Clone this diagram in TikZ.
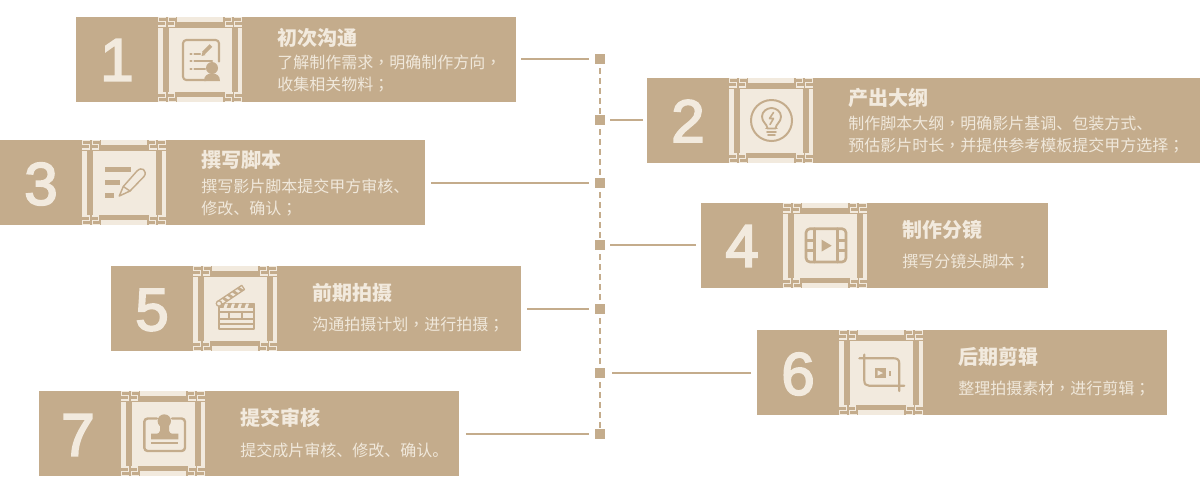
\documentclass[tikz,border=0pt]{standalone}
\usepackage{fontspec}
\setmainfont{Noto Sans CJK SC}
\newfontfamily\numfont[FakeBold=3]{Liberation Sans}
\newfontfamily\tcfont{Noto Sans CJK TC}
\newcommand{\cm}{{\tcfont ，}}
\newcommand{\sm}{{\tcfont ；}}
\definecolor{tan}{HTML}{C4AC8C}
\definecolor{lite}{HTML}{F2EADE}
\definecolor{bodyc}{HTML}{F0E8DB}
\tikzset{
  boxn/.style={fill=tan,inner sep=0pt,outer sep=0pt,minimum height=63.75pt},
  sq/.style={fill=tan,inner sep=0pt,outer sep=0pt,minimum size=7.5pt},
  conn/.style={draw=tan,line width=1.5pt,shorten <=3.75pt,shorten >=4.5pt},
  vdash/.style={draw=tan,line width=1.2pt,dash pattern=on 4.5pt off 3pt,shorten <=3.2pt,shorten >=1pt},
  numn/.style={text=lite,inner sep=0pt,font=\numfont\fontsize{45pt}{45pt}\selectfont},
  titlen/.style={text=lite,anchor=west,inner sep=0pt,font=\bfseries\fontsize{15pt}{15pt}\selectfont},
  bodyn/.style={text=bodyc,anchor=west,inner sep=0pt,font=\fontsize{12pt}{12pt}\selectfont},
  ic/.style={draw=tan,line width=1.6pt,line cap=round,line join=round},
  icthin/.style={draw=tan,line width=.95pt,line cap=round,line join=round},
  key/.style={draw=lite,line width=.8pt},
}
\newcommand{\keycorner}{%
  \foreach \o in {0,9.5}{
    \draw[key,shift={(\o,0)}] (8,0.6) -- (0.6,0.6) -- (0.6,4.8) -- (7.4,4.8) -- (7.4,9) -- (0,9);
  }
}
% panel: center x, center y, icon body
\newcommand{\iconpanel}[3]{%
  \begin{scope}[shift={(#1,#2)}]
    \fill[lite] (-23,-42.5) rectangle (23,-37.5);
    \fill[lite] (-23,37.5) rectangle (23,42.5);
    \fill[lite] (-42,-32) rectangle (-37,32);
    \fill[lite] (37.5,-32) rectangle (42,32);
    \fill[lite] (-31,-31.5) rectangle (32,32.5);
    \begin{scope}[shift={(-42,-42.5)}]\keycorner\end{scope}
    \begin{scope}[shift={(42,-42.5)},xscale=-1]\keycorner\end{scope}
    \begin{scope}[shift={(-42,42.5)},yscale=-1]\keycorner\end{scope}
    \begin{scope}[shift={(42,42.5)},xscale=-1,yscale=-1]\keycorner\end{scope}
    #3
  \end{scope}
}
\begin{document}
\begin{tikzpicture}[x=0.75pt,y=-0.75pt]
\useasboundingbox (0,0) rectangle (1200,494);

% boxes
\node[boxn,minimum width=330pt]    (b1) at (296,59.5) {};
\node[boxn,minimum width=414.75pt] (b2) at (923.5,120.5) {};
\node[boxn,minimum width=318.75pt] (b3) at (212.5,182.5) {};
\node[boxn,minimum width=260.25pt] (b4) at (874.5,245.5) {};
\node[boxn,minimum width=307.5pt]  (b5) at (316,308.5) {};
\node[boxn,minimum width=307.5pt]  (b6) at (962,372.5) {};
\node[boxn,minimum width=315pt]    (b7) at (249,433.5) {};

% junction squares
\node[sq] (s1) at (600,59) {};
\node[sq] (s2) at (600,120) {};
\node[sq] (s3) at (600,183) {};
\node[sq] (s4) at (600,245) {};
\node[sq] (s5) at (600,309) {};
\node[sq] (s6) at (600,373) {};
\node[sq] (s7) at (600,434) {};

% spine
\draw[vdash] (s1.south) -- (s2.north);
\draw[vdash] (s2.south) -- (s3.north);
\draw[vdash] (s3.south) -- (s4.north);
\draw[vdash] (s4.south) -- (s5.north);
\draw[vdash] (s5.south) -- (s6.north);
\draw[vdash] (s6.south) -- (s7.north);

% connectors
\draw[conn,shorten >=4.5pt] (b1.east |- s1) -- (s1.west);
\draw[conn,shorten <=3pt,shorten >=3.75pt] (b2.west |- s2) -- (s2.east);
\draw[conn,shorten <=4.5pt,shorten >=4.5pt] (b3.east |- s3) -- (s3.west);
\draw[conn,shorten >=3.75pt] (b4.west |- s4) -- (s4.east);
\draw[conn,shorten <=4.5pt,shorten >=4.5pt] (b5.east |- s5) -- (s5.west);
\draw[conn,shorten <=4.5pt,shorten >=5.2pt] (b6.west |- s6) -- (s6.east);
\draw[conn,shorten <=5.2pt,shorten >=4.5pt] (b7.east |- s7) -- (s7.west);

% numbers
\node[numn] (n1) at (117,60) {1};
\node[numn] (n2) at (688,121) {2};
\node[numn] (n3) at (41,184) {3};
\node[numn] (n4) at (742,246) {4};
\node[numn] (n5) at (152,310) {5};
\node[numn] (n6) at (798,374) {6};
\node[numn] (n7) at (78,435) {7};

% texts
\node[titlen] (t1) at (277,38) {初次沟通};
\node[bodyn] (d1a) at (277,62) {了解制作需求\cm 明确制作方向\cm};
\node[bodyn] (d1b) at (277,85) {收集相关物料\sm};
\node[titlen] (t2) at (848,98) {产出大纲};
\node[bodyn] (d2a) at (848,123) {制作脚本大纲\cm 明确影片基调、包装方式、};
\node[bodyn] (d2b) at (848,146) {预估影片时长\cm 并提供参考模板提交甲方选择\sm};
\node[titlen] (t3) at (201,160) {撰写脚本};
\node[bodyn] (d3a) at (201,186) {撰写影片脚本提交甲方审核、};
\node[bodyn] (d3b) at (201,209) {修改、确认\sm};
\node[titlen] (t4) at (902,230) {制作分镜};
\node[bodyn] (d4) at (902,262) {撰写分镜头脚本\sm};
\node[titlen] (t5) at (312,293) {前期拍摄};
\node[bodyn] (d5) at (312,325) {沟通拍摄计划\cm 进行拍摄\sm};
\node[titlen] (t6) at (958,357) {后期剪辑};
\node[bodyn] (d6) at (958,389) {整理拍摄素材\cm 进行剪辑\sm};
\node[titlen] (t7) at (240,418) {提交审核};
\node[bodyn] (d7) at (240,450) {提交成片审核、修改、确认。};

% panel 1
\iconpanel{200}{59.5}{
  \draw[ic,rounded corners=2.5pt] (6,20.5) -- (-17,20.5) -- (-17,-19.5) -- (19,-19.5) -- (19,2);
  \draw[ic] (-9.5,-5.5) -- (-8.5,-5.5) (-5.5,-5.5) -- (0,-5.5);
  \draw[ic] (-9.5,1.5) -- (-8.5,1.5) (-5.5,1.5) -- (12,1.5);
  \draw[ic] (-9.5,9.5) -- (-8.5,9.5) (-5.5,9.5) -- (5,9.5);
  \draw[tan,line width=2.8pt] (3.5,-6.5) -- (11,-14);
  \fill[tan] (1.5,-3.5) -- (2.5,-7.5) -- (5.5,-4.5) -- cycle;
  \fill[tan] (12,8.5) circle (6);
  \fill[tan] (4,21.5) .. controls (4,15.5) and (8,14) .. (12,14) .. controls (16,14) and (20,15.5) .. (20,21.5) -- cycle;
}
% panel 2
\iconpanel{771}{120.5}{
  \draw[ic,line width=1.5pt] (0.5,0) circle (20.5);
  \draw[ic,line width=1.4pt] (-3.5,8) .. controls (-4,3) and (-9,2) .. (-9,-4) .. controls (-9,-9) and (-4,-12.5) .. (0.5,-12.5) .. controls (5,-12.5) and (10,-9) .. (10,-4) .. controls (10,2) and (5,3) .. (4.5,8) -- cycle;
  \draw[ic,line width=1.2pt] (2.5,-8) -- (-1.5,-2) -- (2.5,-2) -- (-1,4);
  \draw[ic,line width=1.3pt] (-5,8) -- (6,8) (-4,11.5) -- (5,11.5) (-3,14.5) -- (4,14.5);
}
% panel 3
\iconpanel{124}{182.5}{
  \fill[tan] (-19,-15.5) rectangle (7,-10.5);
  \fill[tan] (-19,-2.5) rectangle (-4,2.5);
  \fill[tan] (-19,10.5) rectangle (-10,15.5);
  \draw[icthin,line width=1.1pt] (-4.7,13.5) -- (-0.7,4) -- (13,-11.5) .. controls (15.5,-14) and (18,-14) .. (19.5,-13) .. controls (21.5,-11.5) and (22,-8.5) .. (20,-6) -- (6,8.5) -- cycle;
  \draw[icthin,line width=1.1pt] (-0.7,4) -- (6,8.5);
}
% panel 4
\iconpanel{825}{245.5}{
  \draw[ic,line width=2pt,rounded corners=3pt] (-19,-16.8) rectangle (21,16.5);
  \draw[ic,line width=2pt] (-10.7,-16.8) -- (-10.7,16.5) (12.7,-16.8) -- (12.7,16.5);
  \draw[ic,line width=1.7pt] (-19,-5) -- (-10.7,-5) (-19,5) -- (-10.7,5) (12.7,-5) -- (21,-5) (12.7,5) -- (21,5);
  \fill[tan] (-3.3,-5.8) -- (6.7,0.2) -- (-3.3,6) -- cycle;
}
% panel 5
\iconpanel{235}{308.5}{
  \draw[icthin] (-16,-5) rectangle (19,20.5);
  \draw[icthin] (-16,3.5) -- (19,3.5) (-16,10.5) -- (19,10.5) (-16,15.5) -- (19,15.5);
  \draw[icthin] (-6,3.5) -- (-6,10.5) (7,3.5) -- (7,10.5);
  \fill[tan] (-16,-5) rectangle (19,-0.5);
  \foreach \a in {-10,-3,4,11}{\fill[lite] (\a,-5) -- (\a+3,-5) -- (\a+1.5,-0.5) -- (\a-1.5,-0.5) -- cycle;}
  \begin{scope}[shift={(-16,-5)},rotate=33.7]
    \draw[icthin] (0,-2.5) rectangle (29,2.5);
    \foreach \a in {5,11,17,23}{\fill[tan] (\a,-2.5) -- (\a+3,-2.5) -- (\a+5,2.5) -- (\a+2,2.5) -- cycle;}
  \end{scope}
  \fill[lite] (-16,-5) circle (2.7);
  \draw[icthin] (-16,-5) circle (2.7);
}
% panel 6
\iconpanel{881}{372.5}{
  \draw[ic,line width=1.6pt] (-16.7,-18) -- (-16.7,8) .. controls (-16.7,11.5) and (-15,13.2) .. (-12,13.2) -- (23.3,13.2);
  \draw[ic,line width=1.6pt] (-21.7,-14.2) -- (13,-14.2) .. controls (16.5,-14.2) and (18.3,-12.5) .. (18.3,-9) -- (18.3,18.5);
  \fill[tan] (-6.3,-4.2) rectangle (5,5.2);
  \fill[lite] (-3.5,-2.2) -- (2,0.5) -- (-3.5,3.2) -- cycle;
  \fill[tan] (7.7,-1.5) rectangle (10,3.2);
}
% panel 7
\iconpanel{163}{433.5}{
  \draw[ic,line width=1.8pt,rounded corners=2.5pt] (-6,-15) -- (-18.7,-15) -- (-18.7,17.5) -- (22,17.5) -- (22,-15) -- (9,-15);
  \fill[tan] (1.3,-12.5) circle (6.7);
  \fill[tan] (-3,-10) -- (6,-10) -- (6,-3) .. controls (6,-1) and (8,0.2) .. (9,0.2) -- (15.3,0.2) -- (15.3,5.8) -- (-12,5.8) -- (-12,0.2) -- (-6,0.2) .. controls (-5,0.2) and (-3,-1) .. (-3,-3) -- cycle;
  \draw[tan,line width=1.3pt] (-12,9.7) -- (15.3,9.7);
}
\end{tikzpicture}
\end{document}
